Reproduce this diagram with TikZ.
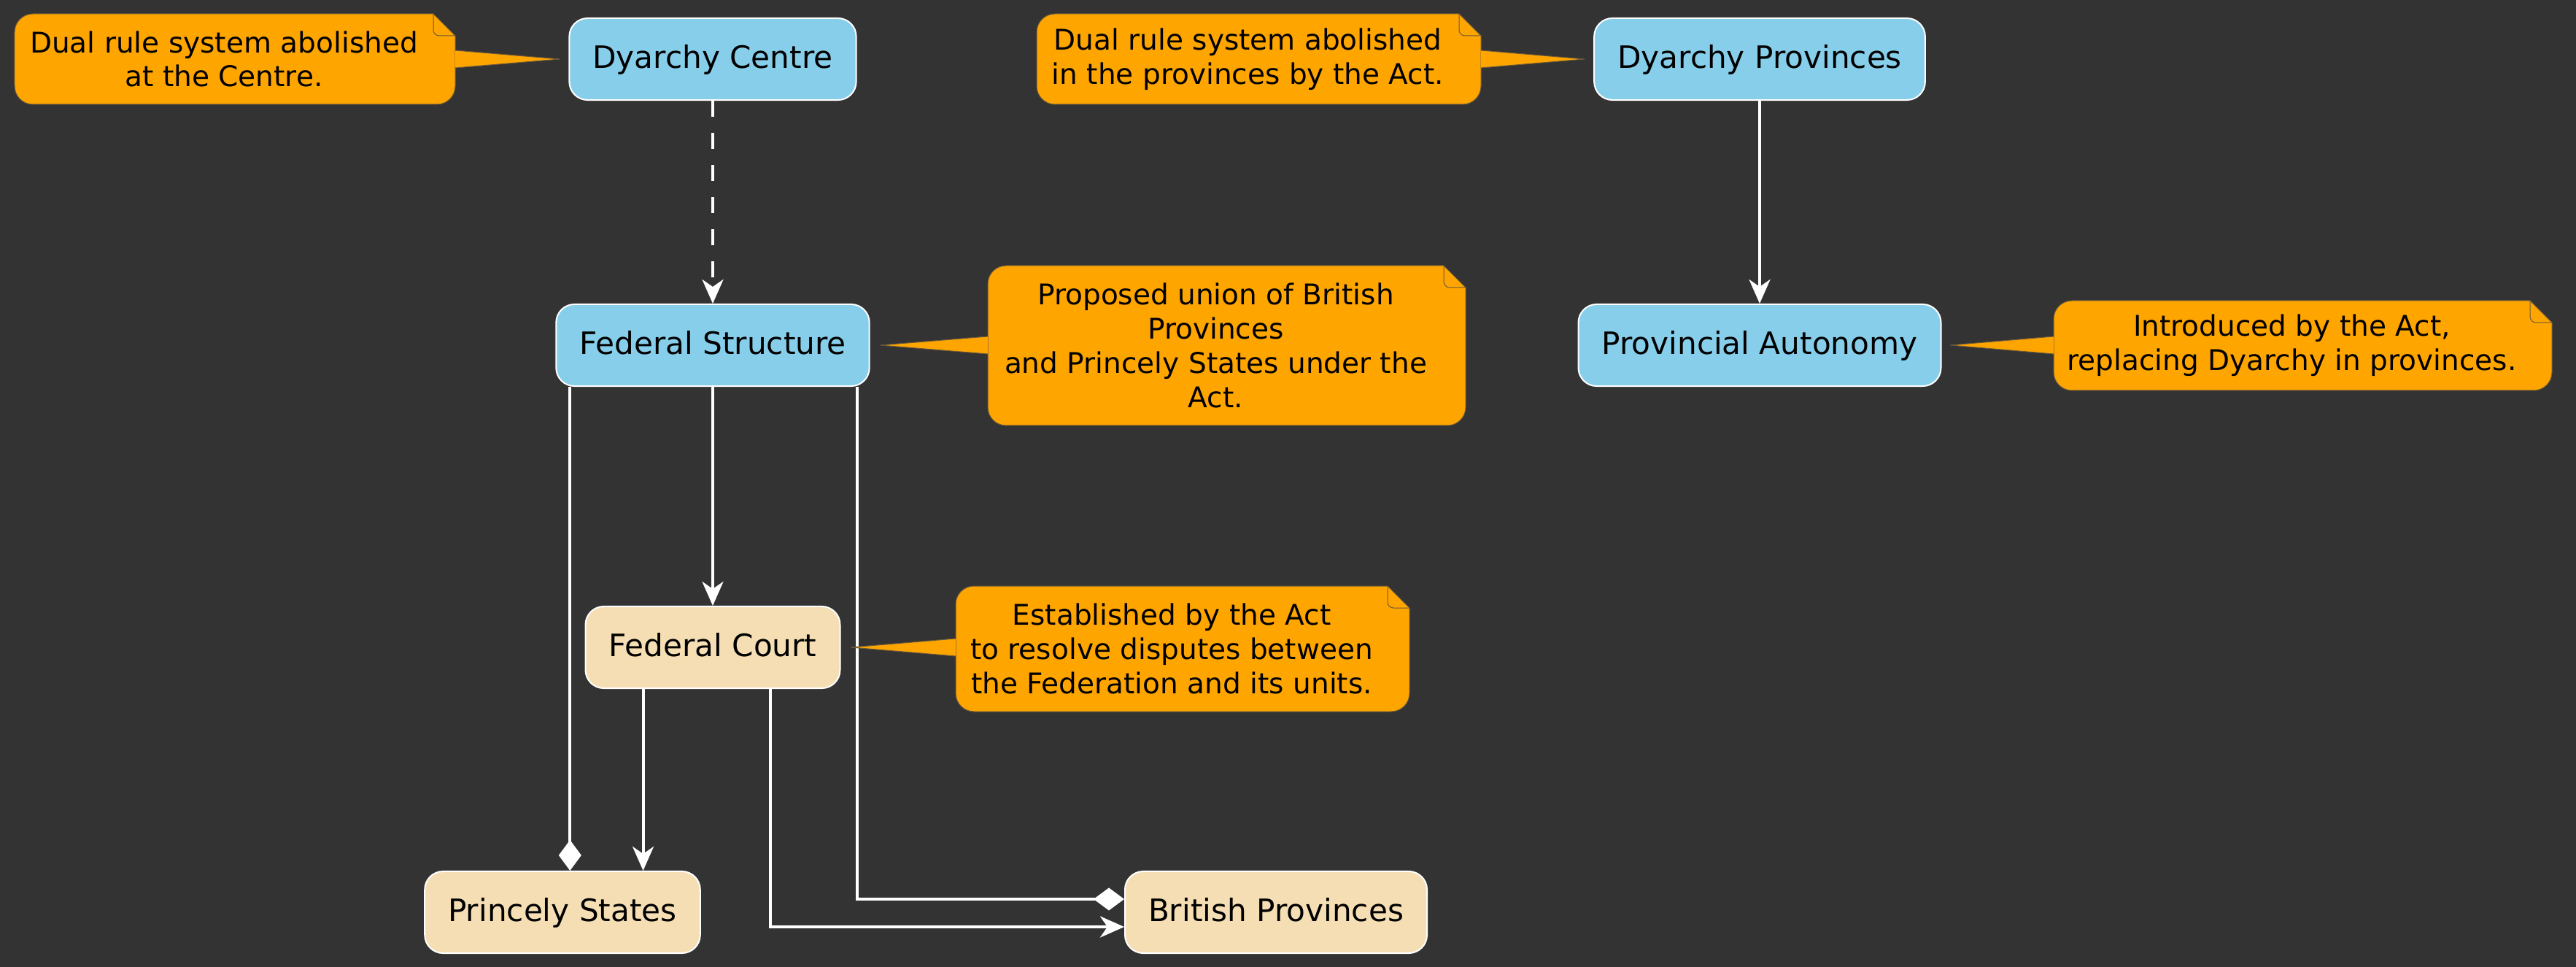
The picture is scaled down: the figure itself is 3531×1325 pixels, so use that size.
\documentclass[tikz,border=0pt]{standalone}
\usepackage{fontspec}
\setmainfont{DejaVu Sans}
\usetikzlibrary{arrows.meta}
\usetikzlibrary{calc}
\definecolor{bgcol}{HTML}{333333}
\definecolor{bluebox}{HTML}{87CEEB}
\definecolor{wheatbox}{HTML}{F5DEB3}
\definecolor{notecol}{HTML}{FFA500}
\definecolor{noteline}{HTML}{6B5A3A}
\tikzset{
	box/.style={draw=white, line width=0.02cm, rounded corners=0.25cm, minimum height=1.12cm, inner xsep=0.32cm, text height=0.98em, text depth=0.25em, text=black, font=\fontsize{12}{14.4}\selectfont},
	blue box/.style={box, fill=bluebox},
	wheat box/.style={box, fill=wheatbox},
	notetext/.style={align=center, inner sep=0pt, text=black, font=\fontsize{11.1}{13.3}\selectfont},
	link/.style={draw=white, line width=0.04cm},
	arr/.style={link, -{Stealth[length=0.33cm, width=0.29cm, inset=0.1cm]}},
	dia/.style={link, -{Diamond[length=0.42cm, width=0.31cm]}},
}
\newcommand{\notebox}[6] % left, top, right, bottom in px, name, text
{
	% body with folded corner
	\filldraw[fill=notecol, draw=noteline, line width=0.01cm] ({#1+25},-#4) -- ({#3-25},-#4) arc[start angle=-90, end angle=0, radius=0.25cm] -- (#3,{-#2-30}) -- ({#3-30},-#2) -- ({#1+25},-#2) arc[start angle=90, end angle=180, radius=0.25cm] -- (#1,{-#4+25}) arc[start angle=180, end angle=270, radius=0.25cm] -- cycle;
	% dog ear
	\draw[noteline, line width=0.01cm, rounded corners=0.08cm] ({#3-30},-#2) -- ({#3-30},{-#2-30}) -- (#3,{-#2-30});
	% text
	\node[notetext] (#5) at ({(#1+#3-30)/2},{-(#2+#4)/2}) {#6};
}
\newcommand{\notetip}[3] % edge x, middle y in px, tip
{
	\fill[notecol] (#1,{-#2+12}) -- (#3) -- (#1,{-#2-12}) -- cycle;
	\draw[noteline, line width=0.01cm] (#1,{-#2+12}) -- (#3) -- (#1,{-#2-12});
}
\begin{document}
\begin{tikzpicture}[x=0.01cm, y=0.01cm]
	% canvas 3531 x 1325 px
	\fill[bgcol] (0,0) rectangle (3531,-1325);
	\useasboundingbox (0,0) rectangle (3531,-1325);
	
	% boxes
	\node[blue box] (dc) at (977,-81) {Dyarchy Centre};
	\node[blue box] (dp) at (2412,-81) {Dyarchy Provinces};
	\node[blue box] (fs) at (977,-473) {Federal Structure};
	\node[blue box] (pa) at (2412,-473) {Provincial Autonomy};
	\node[wheat box] (fc) at (977,-887) {Federal Court};
	\node[wheat box] (ps) at (771,-1250) {Princely States};
	\node[wheat box] (bp) at (1749,-1250) {British Provinces};
	
	% links
	\draw[arr, dash pattern=on 0.22cm off 0.22cm] (dc) -- (fs);
	\draw[arr] (dp) -- (pa);
	\draw[arr] (fs) -- (fc);
	\draw[dia] ([xshift=0.2cm]fs.south west) -- ([xshift=0.2cm]fs.south west |- ps.north);
	\draw[arr] ([xshift=0.8cm]fc.south west) -- ([xshift=0.8cm]fc.south west |- ps.north);
	\draw[arr] ([xshift=-0.96cm]fc.south east) |- ([yshift=-0.2cm]bp.west);
	\draw[dia] ([xshift=-0.18cm]fs.south east) |- ([yshift=0.18cm]bp.west);
	
	% notes
	\coordinate (dc tip) at ([xshift=-0.12cm]dc.west);
	\coordinate (dp tip) at ([xshift=-0.12cm]dp.west);
	\coordinate (fs tip) at ([xshift=0.14cm]fs.east);
	\coordinate (pa tip) at ([xshift=0.12cm]pa.east);
	\coordinate (fc tip) at ([xshift=0.14cm]fc.east);
	
	\notebox{20}{19}{624}{143}{dc note}{Dual rule system abolished\\at the Centre.}
	\notetip{624}{81}{dc tip}
	\notebox{1421}{19}{2030}{143}{dp note}{Dual rule system abolished\\in the provinces by the Act.}
	\notetip{2030}{81}{dp tip}
	\notebox{1354}{364}{2009}{583}{fs note}{Proposed union of British\\Provinces\\and Princely States under the\\Act.}
	\notetip{1354}{473}{fs tip}
	\notebox{2815}{412}{3498}{535}{pa note}{Introduced by the Act,\\replacing Dyarchy in provinces.}
	\notetip{2815}{473}{pa tip}
	\notebox{1310}{803}{1932}{975}{fc note}{Established by the Act\\to resolve disputes between\\the Federation and its units.}
	\notetip{1310}{887}{fc tip}
	
\end{tikzpicture}
\end{document}
